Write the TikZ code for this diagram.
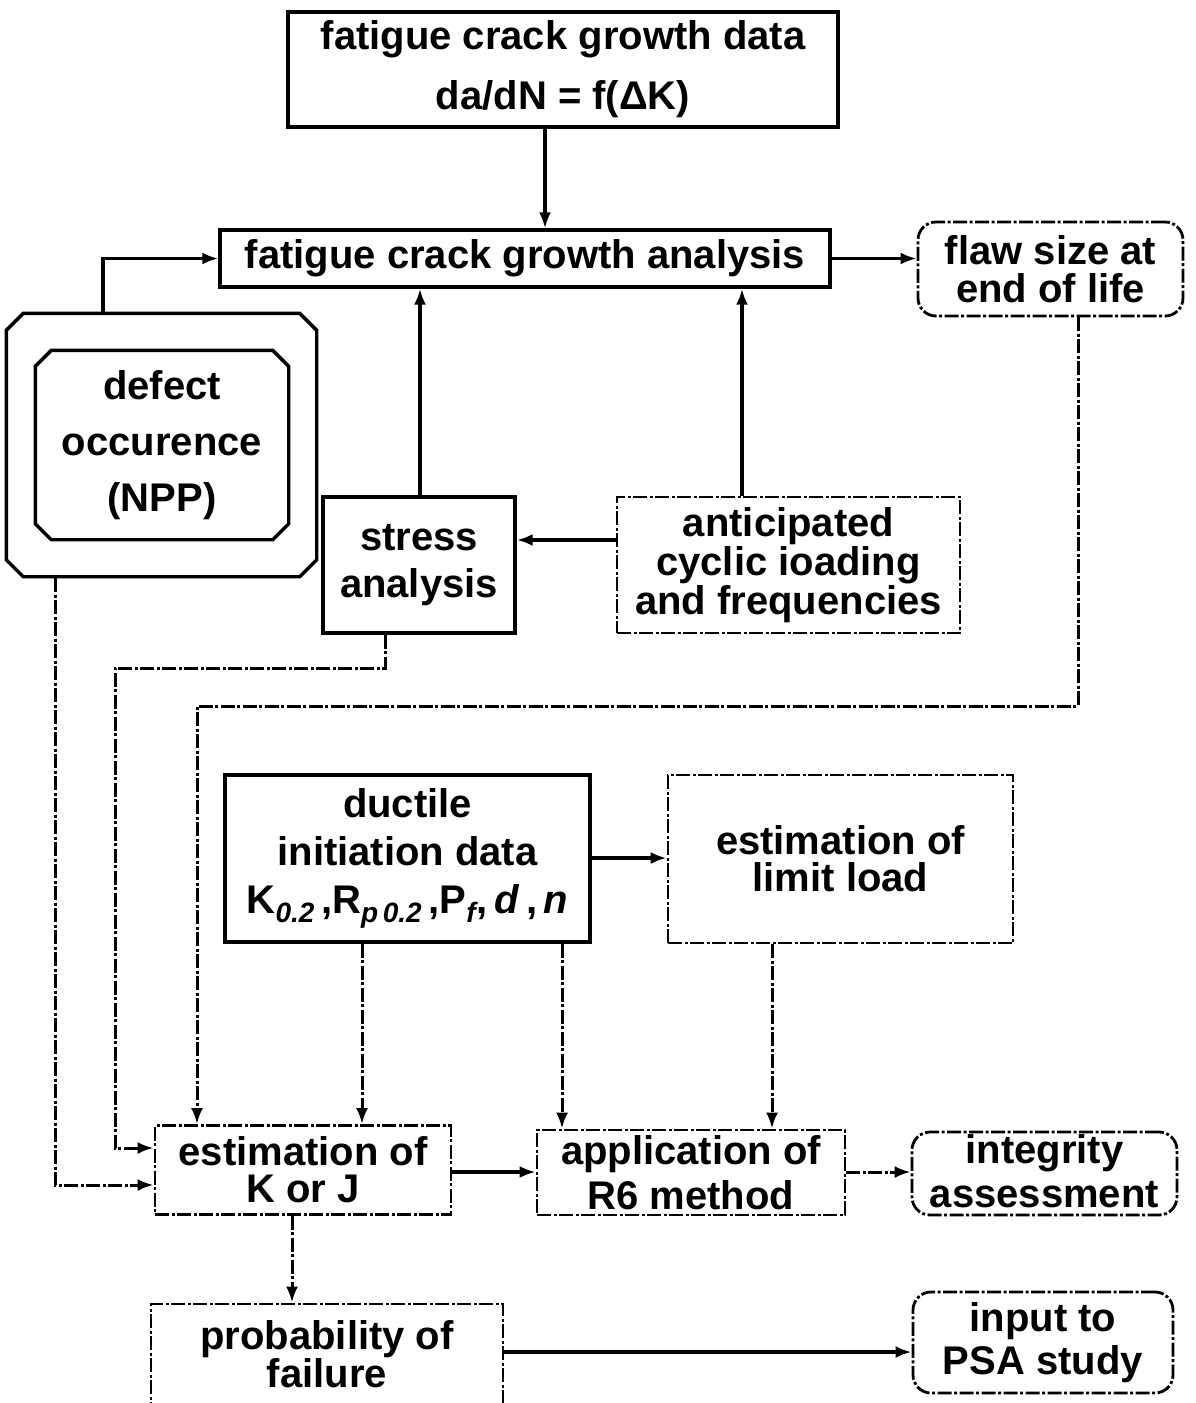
\documentclass[tikz,border=0pt]{standalone}
\usepackage{fontspec}
\setmainfont{Liberation Sans}
\usetikzlibrary{arrows.meta}
% lowered italic index used in the material-data line
\newcommand\lowsub[1]{\raisebox{-9pt}{\fontsize{28}{28}\selectfont\itshape #1}}
% outline with cut corners drawn round a named node
\newcommand\chamferbox[2]{%
  \draw[line width=3.4pt]
    ([yshift=-#2]#1.north west) -- ([xshift=#2]#1.north west)
    -- ([xshift=-#2]#1.north east) -- ([yshift=-#2]#1.north east)
    -- ([yshift=#2]#1.south east) -- ([xshift=-#2]#1.south east)
    -- ([xshift=#2]#1.south west) -- ([yshift=#2]#1.south west) -- cycle;}
\begin{document}
\begin{tikzpicture}[x=1pt,y=-1pt,
  box/.style={draw, line width=3.4pt, inner sep=0pt, align=center,
    font=\bfseries\fontsize{40}{#1}\selectfont},
  box/.default=44,
  plain/.style={draw=none},
  broken/.style={line width=2.8pt, dash pattern=on 14pt off 2.5pt on 3pt off 2.5pt},
  rbox/.style={rounded corners=18pt},
  arr/.style={line width=3.6pt, -{Latex[length=16pt,width=12pt]}},
  darr/.style={arr, line width=3pt, dash pattern=on 14pt off 2.5pt on 3pt off 2.5pt}
]
\useasboundingbox (0,0) rectangle (1195,1403);
\clip (0,0) rectangle (1195,1403);

% ---- boxes ----
\node[box=60, minimum width=550pt, minimum height=115pt] (data) at (563,69.5)
  {fatigue crack growth data\\da/dN = f(ΔK)};
\node[box, minimum width=610pt, minimum height=57pt] (fcga) at (525,258.5)
  {fatigue crack growth analysis};
\node[box=38, rbox, broken, minimum width=265pt, minimum height=94pt] (flaw) at (1050.5,269)
  {flaw size at\\end of life};
\node[box, plain, minimum width=307pt, minimum height=260pt] (defout) at (161.5,445) {};
\node[box=56, plain, minimum width=250pt, minimum height=186pt] (defin) at (162,445)
  {defect\\occurence\\(NPP)};
\chamferbox{defout}{17pt}
\chamferbox{defin}{16pt}
\node[box=47, minimum width=192pt, minimum height=136pt] (stress) at (419,565)
  {stress\\analysis};
\node[box=39, broken, minimum width=343pt, minimum height=136pt] (antic) at (788.5,565)
  {anticipated\\cyclic ioading\\and frequencies};
\node[box=48, minimum width=365pt, minimum height=167pt] (ductile) at (407.5,858.5)
  {ductile\\initiation data\\K\lowsub{0.2}\,,R\lowsub{p\,0.2}\,,P\lowsub{f}\kern1pt,\,\textit{d}\,,\,\textit{n}};
\node[box=37, broken, minimum width=345pt, minimum height=168pt] (limit) at (840.5,859)
  {estimation of\\limit load};
\node[box=37, broken, minimum width=296pt, minimum height=89pt] (estk) at (303,1170)
  {estimation of\\K or J};
\node[box=45, broken, minimum width=308pt, minimum height=85pt] (appl) at (691,1172.5)
  {application of\\R6 method};
\node[box=44, rbox, broken, minimum width=265pt, minimum height=83pt] (integ) at (1044.5,1173.5)
  {integrity\\assessment\rule[-5pt]{0pt}{5pt}};
\node[box=38, broken, minimum width=352pt, minimum height=100pt] (prob) at (327,1354)
  {probability of\\failure};
\node[box=43, rbox, broken, minimum width=260pt, minimum height=101pt] (input) at (1043,1342.5)
  {input to\\PSA study};

% ---- routing coordinates ----
\coordinate (xdata) at (545,0);
\coordinate (xdef) at (103,0);
\coordinate (xstr) at (420,0);
\coordinate (xant) at (742,0);
\coordinate (yload) at (0,540);
\coordinate (sb1) at (385,668);
\coordinate (sb2) at (115,668);
\coordinate (xdefb) at (55,0);
\coordinate (yinA) at (0,1148);
\coordinate (yinB) at (0,1185);
\coordinate (fb1) at (1078,706);
\coordinate (fb2) at (197,706);
\coordinate (xd1) at (362,0);
\coordinate (xd2) at (562,0);
\coordinate (xlim) at (772,0);
\coordinate (ydl) at (0,858);
\coordinate (ymid) at (0,1172);
\coordinate (xkp) at (292,0);
\coordinate (ypsa) at (0,1352);

% ---- connectors ----
\draw[arr] (data.south -| xdata) -- (fcga.north -| xdata);
\draw[arr] (fcga.east) -- (fcga.east -| flaw.west);
\draw[arr] ([yshift=1.5pt]defout.north -| xdef) |- (fcga.west);
\draw[arr] (stress.north -| xstr) -- (fcga.south -| xstr);
\draw[arr] (antic.north -| xant) -- (fcga.south -| xant);
\draw[arr] (antic.west |- yload) -- (stress.east |- yload);
\draw[darr] (stress.south -| sb1) -- (sb1) -- (sb2) |- (estk.west |- yinA);
\draw[darr] ([yshift=-1.5pt]defout.south -| xdefb) |- (estk.west |- yinB);
\draw[darr] (flaw.south -| fb1) -- (fb1) -- (fb2) -- (estk.north -| fb2);
\draw[darr] (ductile.south -| xd1) -- (estk.north -| xd1);
\draw[darr] (ductile.south -| xd2) -- (appl.north -| xd2);
\draw[darr] (limit.south -| xlim) -- (appl.north -| xlim);
\draw[arr] (ductile.east |- ydl) -- (limit.west |- ydl);
\draw[arr] (estk.east |- ymid) -- (appl.west |- ymid);
\draw[darr] (appl.east |- ymid) -- (integ.west |- ymid);
\draw[darr] (estk.south -| xkp) -- (prob.north -| xkp);
\draw[arr] (prob.east |- ypsa) -- (input.west |- ypsa);
\end{tikzpicture}
\end{document}
